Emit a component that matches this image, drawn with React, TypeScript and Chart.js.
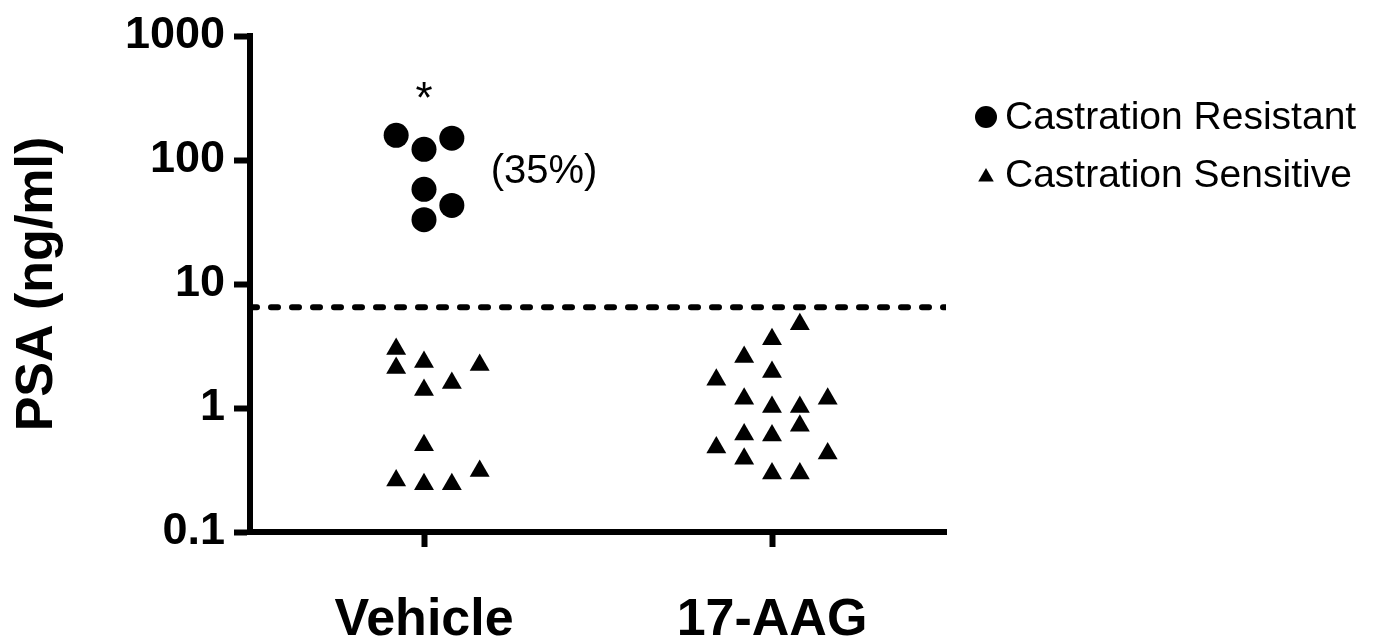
import React, { useEffect, useRef } from "react";
import { Chart, registerables } from "chart.js";

Chart.register(...registerables);

// ---- data ----
const categories = ["Vehicle", "17-AAG"];
const categoryPositions = [1, 2];
const yTickValues = [0.1, 1, 10, 100, 1000];
const yTickLabels = ["0.1", "1", "10", "100", "1000"];

// Castration Resistant (Vehicle group)
const resistantX = [0.92, 1.0, 1.08, 1.0, 1.08, 1.0];
const resistantPSA = [158, 122, 150, 58, 43, 33];

// Castration Sensitive – Vehicle group
const sensVehicleX = [0.92, 0.92, 1.0, 1.16, 1.08, 1.0, 1.0, 1.16, 0.92, 1.0, 1.08];
const sensVehiclePSA = [2.99, 2.1, 2.35, 2.22, 1.59, 1.4, 0.5, 0.31, 0.26, 0.243, 0.243];

// Castration Sensitive – 17-AAG group
const sensAAGX = [2.08, 2.0, 1.92, 2.0, 1.84, 1.92, 2.0, 2.08, 2.16, 2.08, 1.92, 2.0, 1.84, 1.92, 2.16, 2.0, 2.08];
const sensAAGPSA = [4.74, 3.59, 2.58, 1.95, 1.69, 1.19, 1.02, 1.02, 1.19, 0.72, 0.61, 0.6, 0.48, 0.39, 0.43, 0.297, 0.297];

const thresholdPSA = 6.5;
const xRange = [0.5, 2.5];
const yRange = [0.1, 1000];

const legendLabels = ["Castration Resistant", "Castration Sensitive"];
const yAxisTitle = "PSA (ng/ml)";
const starText = "*";
const starAt = { x: 1.0, y: 300 };
const percentText = "(35%)";
const percentAt = { x: 1.345, y: 80 };

const FONT = "'Liberation Sans', Arial, Helvetica, sans-serif";

const annotationPlugin = {
  id: "annotations",
  afterDatasetsDraw(chart: any) {
    const { ctx, scales, chartArea } = chart;
    const xs = scales.x;
    const ys = scales.y;
    ctx.save();
    ctx.fillStyle = "#000";
    ctx.textAlign = "center";
    ctx.textBaseline = "middle";
    ctx.font = `44px ${FONT}`;
    ctx.fillText(starText, xs.getPixelForValue(starAt.x), ys.getPixelForValue(starAt.y));
    ctx.font = `40px ${FONT}`;
    ctx.fillText(percentText, xs.getPixelForValue(percentAt.x), ys.getPixelForValue(percentAt.y));

    // legend
    const lx = chartArea.right + 40;
    const ly1 = 117;
    const ly2 = 177;
    ctx.beginPath();
    ctx.arc(lx, ly1, 11, 0, Math.PI * 2);
    ctx.fill();
    const r = 9;
    ctx.beginPath();
    ctx.moveTo(lx, ly2 - r);
    ctx.lineTo(lx + r * Math.sin((2 * Math.PI) / 3), ly2 + r / 2);
    ctx.lineTo(lx - r * Math.sin((2 * Math.PI) / 3), ly2 + r / 2);
    ctx.closePath();
    ctx.fill();
    ctx.textAlign = "left";
    ctx.font = `39px ${FONT}`;
    ctx.fillText(legendLabels[0], lx + 19, ly1 + 1);
    ctx.fillText(legendLabels[1], lx + 19, ly2 - 1);
    ctx.restore();
  },
};

export default function App() {
  const ref = useRef<HTMLCanvasElement | null>(null);

  useEffect(() => {
    if (!ref.current) return;
    const resistantPts = resistantX.map((x, i) => ({ x, y: resistantPSA[i] }));
    const sensitivePts = [
      ...sensVehicleX.map((x, i) => ({ x, y: sensVehiclePSA[i] })),
      ...sensAAGX.map((x, i) => ({ x, y: sensAAGPSA[i] })),
    ];
    const chart = new Chart(ref.current, {
      type: "scatter",
      data: {
        datasets: [
          {
            label: legendLabels[0],
            data: resistantPts,
            pointStyle: "circle",
            pointRadius: 12.5,
            backgroundColor: "#000",
            borderWidth: 0,
          },
          {
            label: legendLabels[1],
            data: sensitivePts,
            pointStyle: "triangle",
            pointRadius: 11.5,
            backgroundColor: "#000",
            borderWidth: 0,
          },
          {
            type: "line",
            label: "threshold",
            data: [
              { x: xRange[0], y: thresholdPSA },
              { x: xRange[1], y: thresholdPSA },
            ],
            borderColor: "#000",
            borderWidth: 6,
            borderDash: [7, 14],
            borderCapStyle: "round",
            pointRadius: 0,
            fill: false,
          } as any,
        ],
      },
      options: {
        animation: false,
        responsive: false,
        devicePixelRatio: 1,
        layout: { padding: { top: 33, right: 432, left: 0, bottom: 0 } },
        plugins: {
          legend: { display: false },
          tooltip: { enabled: false },
        },
        scales: {
          x: {
            type: "linear",
            min: xRange[0],
            max: xRange[1],
            afterBuildTicks: (axis: any) => {
              axis.ticks = categoryPositions.map((v) => ({ value: v }));
            },
            afterFit: (s: any) => {
              s.height = 111;
            },
            ticks: {
              autoSkip: false,
              maxRotation: 0,
              padding: 42,
              color: "#000",
              font: { family: FONT, size: 52, weight: "bold" },
              callback: (v: any) => categories[categoryPositions.indexOf(Number(v))],
            },
            grid: {
              display: true,
              drawOnChartArea: false,
              drawTicks: true,
              tickLength: 15,
              tickWidth: 6,
              tickColor: "#000",
              color: "#000",
            },
            border: { display: true, color: "#000", width: 6 },
          },
          y: {
            type: "logarithmic",
            min: yRange[0],
            max: yRange[1],
            afterBuildTicks: (axis: any) => {
              axis.ticks = yTickValues.map((v) => ({ value: v }));
            },
            afterFit: (s: any) => {
              s.width = 250;
            },
            ticks: {
              autoSkip: false,
              padding: 9,
              color: "#000",
              font: { family: FONT, size: 45, weight: "bold" },
              callback: (_v: any, i: number) => yTickLabels[i],
            },
            grid: {
              display: true,
              drawOnChartArea: false,
              drawTicks: true,
              tickLength: 16,
              tickWidth: 6,
              tickColor: "#000",
              color: "#000",
            },
            border: { display: true, color: "#000", width: 6 },
            title: {
              display: true,
              text: yAxisTitle,
              color: "#000",
              font: { family: FONT, size: 52, weight: "bold" },
              padding: { top: 6, bottom: 0 },
            },
          },
        },
      },
      plugins: [annotationPlugin],
    });
    return () => chart.destroy();
  }, []);

  return (
    <div style={{ position: "fixed", left: 0, top: 0, width: 1378, height: 643, background: "#fff" }}>
      <canvas ref={ref} width={1378} height={643} style={{ display: "block" }} />
    </div>
  );
}
